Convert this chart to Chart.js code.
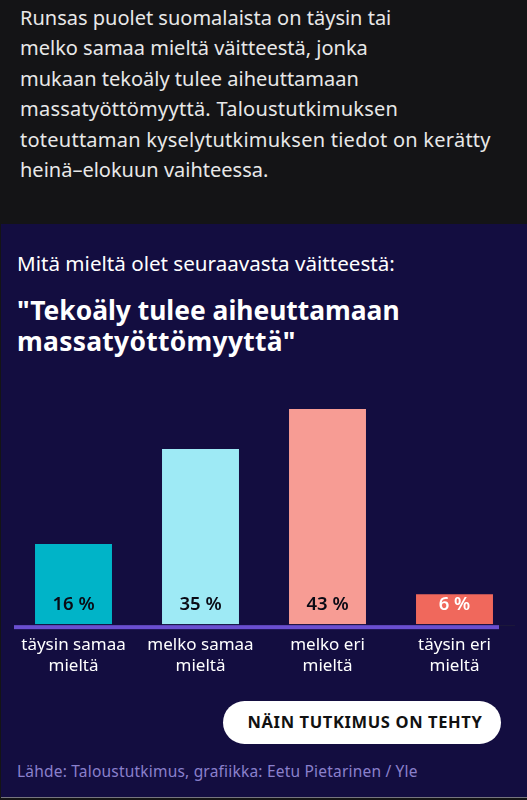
<!DOCTYPE html>
<html>
<head>
<meta charset="utf-8">
<style>
html, body { margin: 0; padding: 0; background: #141416; }
#page { position: relative; width: 527px; height: 800px; overflow: hidden; font-family: "Noto Sans", sans-serif; }
#intro { position: absolute; left: 20px; top: 3px; color: #e8e8e8; font-size: 20px; line-height: 30.4px; white-space: nowrap; }
#panel { position: absolute; left: 1px; right: 0; top: 224px; height: 573px; background: #130d40; border-bottom: 1px solid #77767f; }
#question { position: absolute; left: 17px; top: 250px; color: #fff; font-size: 20.6px; line-height: 26px; white-space: nowrap; }
#title { position: absolute; left: 17px; top: 295px; color: #fff; font-size: 26.4px; line-height: 31px; font-weight: 700; white-space: nowrap; }
#chartBox { position: absolute; left: 0; top: 381px; width: 527px; height: 298px; }
#btn { position: absolute; left: 223px; top: 701px; width: 278px; height: 43px; border-radius: 22px; background: #fff; color: #111; font-size: 16.5px; font-weight: 700; line-height: 42px; text-align: center; text-indent: 6px; letter-spacing: .62px; white-space: nowrap; }
#source { position: absolute; left: 17px; top: 760px; color: #8a80cc; font-size: 15.5px; line-height: 22px; letter-spacing: .2px; white-space: nowrap; }
.wide { letter-spacing: .25px; }
</style>
</head>
<body>
<div id="page">
    <div id="intro">Runsas puolet suomalaista on täysin tai<br>melko samaa mieltä väitteestä, jonka<br>mukaan tekoäly tulee aiheuttamaan<br><span class="wide">massatyöttömyyttä. Taloustutkimuksen</span><br><span class="wide">toteuttaman kyselytutkimuksen tiedot on kerätty</span><br>heinä–elokuun vaihteessa.</div>
    <div id="panel"></div>
    <div id="question">Mitä mieltä olet seuraavasta väitteestä:</div>
    <div id="title">"Tekoäly tulee aiheuttamaan<br><span style="letter-spacing:.3px">massatyöttömyyttä"</span></div>
    <div id="chartBox"><canvas id="surveyChart" width="527" height="298"></canvas></div>
    <div id="btn">NÄIN TUTKIMUS ON TEHTY</div>
    <div id="source">Lähde: Taloustutkimus, grafiikka: Eetu Pietarinen / Yle</div>
</div>
<script src="https://cdn.jsdelivr.net/npm/chart.js@4"></script>
<script>
const categories = [['täysin samaa', 'mieltä'], ['melko samaa', 'mieltä'], ['melko eri', 'mieltä'], ['täysin eri', 'mieltä']];
const shares = [16, 35, 43, 6];
const barColors = ['#00b4c8', '#9eeaf5', '#f79c94', '#f0685c'];
const labelColors = ['#0a0a14', '#0a0a14', '#0a0a14', '#ffffff'];

// Value labels sit near the foot of each bar, and the purple base line stops short of the right edge
const barLabels = {
    id: 'barLabels',
    afterDatasetsDraw(chart) {
        const ctx = chart.ctx;
        const zero = chart.scales.y.getPixelForValue(0);
        ctx.save();
        ctx.fillStyle = '#1d1a3a';
        ctx.fillRect(499, zero + 1, 16, 1);
        ctx.fillStyle = '#6a4fd0';
        ctx.fillRect(14, zero + 1, 485, 4);
        ctx.font = '600 18.5px "Noto Sans", sans-serif';
        ctx.textAlign = 'center';
        ctx.textBaseline = 'middle';
        chart.getDatasetMeta(0).data.forEach((bar, i) => {
            ctx.fillStyle = labelColors[i];
            ctx.fillText(shares[i] + ' %', bar.x, zero - 19);
        });
        ctx.restore();
    }
};

const surveyctx = document.getElementById('surveyChart').getContext('2d');
new Chart(surveyctx, {
    type: 'bar',
    data: {
        labels: categories,
        datasets: [
            {
                data: shares,
                backgroundColor: barColors,
                barPercentage: 0.606,
                categoryPercentage: 1
            }
        ]
    },
    options: {
        responsive: false,
        animation: false,
        layout: { padding: { left: 10, right: 9, top: 0, bottom: 0 } },
        plugins: { legend: { display: false }, tooltip: { enabled: false } },
        scales: {
            y: {
                display: false,
                min: 0,
                max: 48.6
            },
            x: {
                border: { display: false },
                grid: { display: false },
                ticks: {
                    color: '#ffffff',
                    maxRotation: 0,
                    autoSkip: false,
                    padding: 2,
                    font: { family: '"Noto Sans", sans-serif', size: 17, lineHeight: 1.26 }
                }
            }
        }
    },
    plugins: [barLabels]
});
</script>
</body>
</html>
